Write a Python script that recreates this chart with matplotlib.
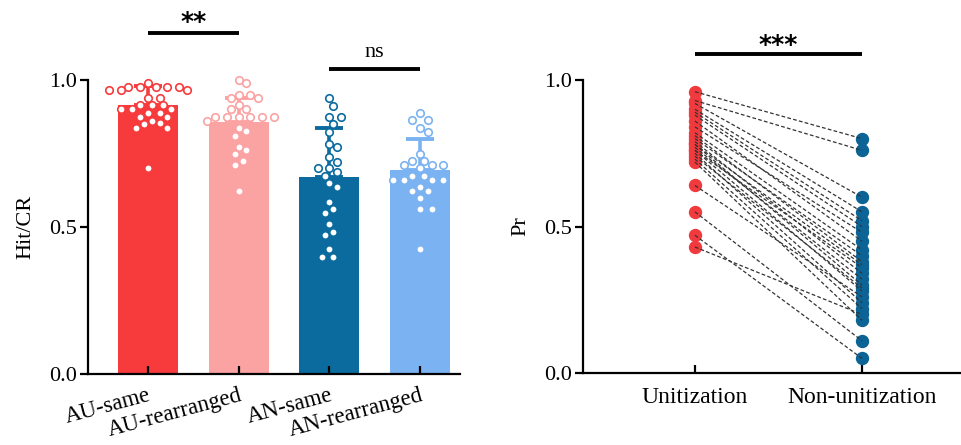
import numpy as np
import matplotlib
matplotlib.use('Agg')
import matplotlib.pyplot as plt

# ---------------- data ----------------
categories = ['AU-same', 'AU-rearranged', 'AN-same', 'AN-rearranged']
bar_means = [0.915, 0.856, 0.669, 0.694]
bar_sds = [0.065, 0.084, 0.167, 0.106]

au_same = [0.99, 0.977, 0.977, 0.977, 0.977, 0.977, 0.965, 0.965, 0.965,
           0.94, 0.94, 0.915, 0.915, 0.915, 0.90, 0.90, 0.90, 0.887, 0.887,
           0.875, 0.873, 0.862, 0.853, 0.85, 0.836, 0.836, 0.70]
au_rearranged = [1.0, 0.99, 0.95, 0.95, 0.94, 0.94, 0.915, 0.90, 0.90,
                 0.873, 0.873, 0.873, 0.873, 0.873, 0.873, 0.862,
                 0.836, 0.825, 0.81, 0.773, 0.762, 0.748, 0.725, 0.711, 0.623]
an_same = [0.938, 0.913, 0.873, 0.873, 0.849, 0.824, 0.784, 0.773, 0.737,
           0.722, 0.70, 0.70, 0.686, 0.675, 0.649, 0.635, 0.586, 0.56,
           0.549, 0.51, 0.484, 0.473, 0.424, 0.397, 0.397]
an_rearranged = [0.887, 0.864, 0.864, 0.838, 0.824, 0.748, 0.724, 0.724,
                 0.711, 0.711, 0.711, 0.70, 0.675, 0.675, 0.66, 0.66, 0.66,
                 0.66, 0.635, 0.622, 0.622, 0.597, 0.56, 0.56, 0.424]
group_points = [au_same, au_rearranged, an_same, an_rearranged]

pair_labels = ['Unitization', 'Non-unitization']
unitization = [0.96, 0.93, 0.92, 0.90, 0.89, 0.88, 0.86, 0.84, 0.82, 0.81,
               0.80, 0.79, 0.78, 0.78, 0.77, 0.76, 0.76, 0.75, 0.74, 0.73,
               0.72, 0.64, 0.55, 0.47, 0.43]
non_unitization = [0.80, 0.76, 0.60, 0.55, 0.52, 0.50, 0.45, 0.48, 0.42, 0.38,
                   0.40, 0.34, 0.37, 0.30, 0.32, 0.28, 0.36, 0.24, 0.29, 0.22,
                   0.18, 0.26, 0.11, 0.05, 0.20]

yticks = [0.0, 0.5, 1.0]
ytick_labels = ['0.0', '0.5', '1.0']

# ---------------- style ----------------
bar_colors = ['#F73B3D', '#FBA3A3', '#0B6B9E', '#7BB3F2']
red = '#F13A3D'
blue = '#0C6395'
serif = ['Liberation Serif', 'DejaVu Serif']
plt.rcParams['font.family'] = serif
plt.rcParams['font.size'] = 16

W, H = 962, 445
fig = plt.figure(figsize=(W / 100, H / 100), dpi=100)

# left axes
L_left, L_right, L_top, L_bot = 88, 460, 80, 374
axL = fig.add_axes([L_left / W, (H - L_bot) / H, (L_right - L_left) / W, (L_bot - L_top) / H])
R_left, R_right, R_top, R_bot = 583, 960, 80, 373
axR = fig.add_axes([R_left / W, (H - R_bot) / H, (R_right - R_left) / W, (R_bot - R_top) / H])

xlimL = (-0.66, 3.44)
axL.set_xlim(*xlimL)
axL.set_ylim(0, 1.0)
xpos = np.arange(len(categories))
axL.bar(xpos, bar_means, width=0.66, color=bar_colors, zorder=1)
for i in range(len(categories)):
    axL.errorbar(xpos[i], bar_means[i], yerr=[[0], [bar_sds[i]]], fmt='none',
                 ecolor=bar_colors[i], elinewidth=2.6, capsize=10, capthick=2.8,
                 zorder=2)

# beeswarm layout in pixel space
px_per_x = (L_right - L_left) / (xlimL[1] - xlimL[0])
px_per_y = (L_bot - L_top) / 1.0
D = 7.8


def swarm(vals):
    vals = np.asarray(vals)
    order = np.argsort(-vals, kind='stable')
    placed = []
    offs = np.zeros(len(vals))
    cands = [0.0]
    for n in range(1, 30):
        cands += [n * D / 2, -n * D / 2]
    for i in order:
        y = vals[i] * px_per_y
        for c in cands:
            if all((c - px) ** 2 + (y - py) ** 2 >= (D * 1.02) ** 2 for px, py in placed):
                break
        placed.append((c, y))
        offs[i] = c
    return offs / px_per_x


for i, pts in enumerate(group_points):
    off = swarm(pts)
    axL.plot(xpos[i] + off, pts, 'o', ms=5.4, mfc='white', mec=bar_colors[i],
             mew=1.2, ls='none', zorder=3, clip_on=False)

axL.set_xticks(xpos)
axL.set_xticklabels(categories, rotation=15, ha='right', rotation_mode='anchor',
                    fontsize=16.5)
axL.set_yticks(yticks)
axL.set_yticklabels(ytick_labels)
axL.set_ylabel('Hit/CR', labelpad=10)

# significance for left
axL.plot([0, 1], [1.16, 1.16], color='black', lw=2.8, clip_on=False,
         solid_capstyle='butt')
axL.text(0.5, 1.172, '**', ha='center', va='baseline', fontsize=18,
         fontweight='bold', family='DejaVu Sans')
axL.plot([2, 3], [1.037, 1.037], color='black', lw=2.8, clip_on=False,
         solid_capstyle='butt')
axL.text(2.5, 1.078, 'ns', ha='center', va='baseline', fontsize=16)

# right axes
axR.set_xlim(-0.67, 1.587)
axR.set_ylim(0, 1.0)
for u, n in zip(unitization, non_unitization):
    axR.plot([0, 1], [u, n], color='#333333', lw=0.9, ls=(0, (3, 1.8)), zorder=3)
axR.plot(np.zeros(len(unitization)), unitization, 'o', ms=8.6, color=red,
         ls='none', zorder=2, clip_on=False)
axR.plot(np.ones(len(non_unitization)), non_unitization, 'o', ms=8.6, color=blue,
         ls='none', zorder=2, clip_on=False)
axR.set_xticks([0, 1])
axR.set_xticklabels(pair_labels, fontsize=17)
axR.set_yticks(yticks)
axR.set_yticklabels(ytick_labels)
axR.set_ylabel('Pr', labelpad=10)
axR.plot([0, 1], [1.089, 1.089], color='black', lw=2.8, clip_on=False,
         solid_capstyle='butt')
axR.text(0.5, 1.094, '***', ha='center', va='baseline', fontsize=18,
         fontweight='bold', family='DejaVu Sans')

for ax in (axL, axR):
    for s in ('top', 'right'):
        ax.spines[s].set_visible(False)
    for s in ('left', 'bottom'):
        ax.spines[s].set_linewidth(1.6)
    ax.tick_params(axis='y', direction='out', length=6, width=1.6, pad=2)
    ax.set_facecolor('none')
axL.tick_params(axis='x', direction='in', length=6, width=1.6, pad=8)
axR.tick_params(axis='x', direction='in', length=6, width=1.6, pad=10)

fig.savefig('out.png', dpi=100)
